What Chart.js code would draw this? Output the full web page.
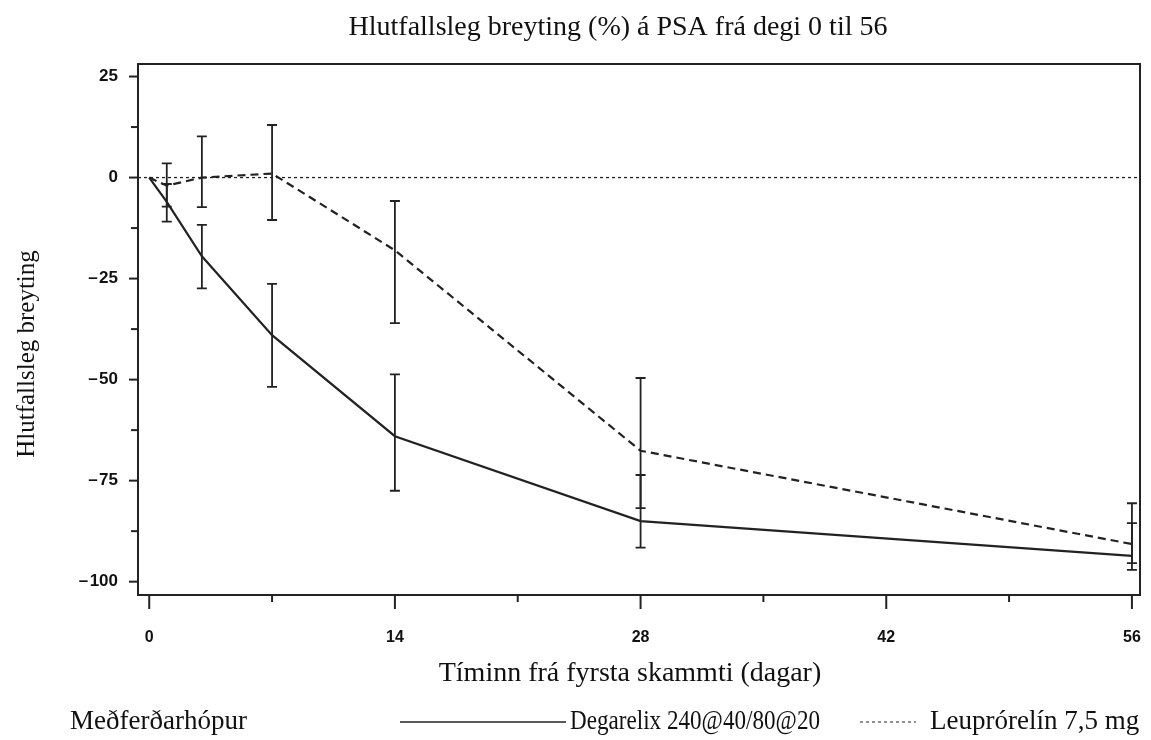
<!DOCTYPE html>
<html>
<head>
<meta charset="utf-8">
<script src="https://cdn.jsdelivr.net/npm/chart.js@4.4.1/dist/chart.umd.min.js"></script>
<style>
  html, body { margin: 0; padding: 0; background: #fff; }
  #wrap { width: 1151px; height: 740px; }
</style>
</head>
<body>
<div id="wrap"><canvas id="myChart" width="1151" height="740"></canvas></div>
<script>
// days after first dose
const days = [0, 1, 3, 7, 14, 28, 56];

// Degarelix 240@40/80@20
const degarelix = [0, -6, -19.5, -39, -64, -85, -93.6];
const degLow = [null, -10.9, -27.4, -51.8, -77.5, -91.6, -97.1];
const degHigh = [null, -1.6, -11.7, -26.3, -48.7, -73.6, -85.5];

// Leuprórelín 7,5 mg
const leuprorelin = [0, -2, 0, 1, -18, -67.6, -90.7];
const leuLow = [null, -7.2, -7.3, -10.5, -36, -81.8, -95.4];
const leuHigh = [null, 3.5, 10.2, 13, -5.8, -49.6, -80.6];

const xTicks = [0, 14, 28, 42, 56];
const xMinor = [7, 21, 35, 49];
const yTicks = [-100, -75, -50, -25, 0, 25];
const yMinor = [-87.5, -62.5, -37.5, -12.5, 12.5];

const serif = '"Liberation Serif", "Times New Roman", serif';
const sans = '"Liberation Sans", Arial, sans-serif';
const ink = '#222';

const toPoints = (ys) => days.map((d, i) => ({ x: d, y: ys[i] }));

// box, ticks, zero line, error bars, titles and legend
const decor = {
  id: 'decor',
  beforeDatasetsDraw(chart) {
    const { ctx, chartArea: a, scales: { y } } = chart;
    ctx.save();
    ctx.strokeStyle = ink;
    ctx.lineWidth = 1.3;
    ctx.setLineDash([3, 3]);
    ctx.beginPath();
    ctx.moveTo(a.left, y.getPixelForValue(0));
    ctx.lineTo(a.right, y.getPixelForValue(0));
    ctx.stroke();
    ctx.restore();
  },
  afterDatasetsDraw(chart) {
    const { ctx, chartArea: a, scales: { x, y } } = chart;
    ctx.save();
    ctx.strokeStyle = ink;
    ctx.lineWidth = 2;
    ctx.setLineDash([]);
    ctx.strokeRect(a.left, a.top, a.right - a.left, a.bottom - a.top);

    // y ticks
    yTicks.forEach(v => {
      const py = y.getPixelForValue(v);
      ctx.beginPath(); ctx.moveTo(a.left - 9, py); ctx.lineTo(a.left, py); ctx.stroke();
    });
    yMinor.forEach(v => {
      const py = y.getPixelForValue(v);
      ctx.beginPath(); ctx.moveTo(a.left - 7, py); ctx.lineTo(a.left, py); ctx.stroke();
    });
    // x ticks
    xTicks.forEach(v => {
      const px = x.getPixelForValue(v);
      ctx.beginPath(); ctx.moveTo(px, a.bottom); ctx.lineTo(px, a.bottom + 14); ctx.stroke();
    });
    xMinor.forEach(v => {
      const px = x.getPixelForValue(v);
      ctx.beginPath(); ctx.moveTo(px, a.bottom); ctx.lineTo(px, a.bottom + 7); ctx.stroke();
    });

    // error bars
    ctx.lineWidth = 1.8;
    const bars = (lo, hi) => {
      days.forEach((d, i) => {
        if (lo[i] == null) return;
        const px = x.getPixelForValue(d);
        const p1 = y.getPixelForValue(lo[i]);
        const p2 = y.getPixelForValue(hi[i]);
        ctx.beginPath();
        ctx.moveTo(px, p1); ctx.lineTo(px, p2);
        ctx.moveTo(px - 5, p1); ctx.lineTo(px + 5, p1);
        ctx.moveTo(px - 5, p2); ctx.lineTo(px + 5, p2);
        ctx.stroke();
      });
    };
    bars(degLow, degHigh);
    bars(leuLow, leuHigh);

    // titles
    ctx.fillStyle = '#111';
    ctx.textAlign = 'center';
    ctx.textBaseline = 'middle';
    ctx.font = '28px ' + serif;
    ctx.fillText('Hlutfallsleg breyting (%) á PSA frá degi 0 til 56', 618, 28, 540);
    ctx.fillText('Tíminn frá fyrsta skammti (dagar)', 630, 674, 386);
    ctx.font = '25px ' + serif;
    ctx.save();
    ctx.translate(27, 354);
    ctx.rotate(-Math.PI / 2);
    ctx.fillText('Hlutfallsleg breyting', 0, 0, 208);
    ctx.restore();

    // legend
    const ly = 722;
    ctx.font = '27px ' + serif;
    ctx.textAlign = 'left';
    ctx.fillText('Meðferðarhópur', 70, ly, 180);
    const ds = chart.data.datasets;
    ctx.lineWidth = 1.6;
    ctx.setLineDash([]);
    ctx.beginPath(); ctx.moveTo(400, ly); ctx.lineTo(566, ly); ctx.stroke();
    ctx.fillText(ds[0].label, 570, ly, 250);
    ctx.lineWidth = 1.2;
    ctx.setLineDash([3, 3]);
    ctx.beginPath(); ctx.moveTo(860, ly); ctx.lineTo(916, ly); ctx.stroke();
    ctx.fillText(ds[1].label, 930, ly, 210);
    ctx.restore();
  }
};

const config = {
  type: 'scatter',
  data: {
    datasets: [
      {
        label: 'Degarelix 240@40/80@20',
        data: toPoints(degarelix),
        showLine: true,
        borderColor: ink,
        borderWidth: 2.2,
        pointRadius: 0,
        tension: 0
      },
      {
        label: 'Leuprórelín 7,5 mg',
        data: toPoints(leuprorelin),
        showLine: true,
        borderColor: ink,
        borderWidth: 2.2,
        borderDash: [8, 5],
        pointRadius: 0,
        tension: 0
      }
    ]
  },
  options: {
    responsive: false,
    animation: false,
    layout: { padding: { top: 64, right: 11, left: 0, bottom: 0 } },
    plugins: {
      legend: { display: false },
      title: { display: false },
      tooltip: { enabled: false }
    },
    scales: {
      x: {
        type: 'linear',
        min: -0.64,
        max: 56.46,
        afterBuildTicks: (s) => { s.ticks = xTicks.map(v => ({ value: v })); },
        afterFit: (s) => { s.height = 145; s.paddingLeft = 0; s.paddingRight = 0; },
        grid: { display: false, drawTicks: false },
        border: { display: false },
        ticks: {
          autoSkip: false,
          maxRotation: 0,
          padding: 33,
          color: '#111',
          font: { family: sans, size: 16, weight: 'bold' },
          callback: (v) => String(v)
        }
      },
      y: {
        type: 'linear',
        min: -103.3,
        max: 28.1,
        afterBuildTicks: (s) => { s.ticks = yTicks.map(v => ({ value: v })); },
        afterFit: (s) => { s.width = 138; s.paddingTop = 0; s.paddingBottom = 0; },
        grid: { display: false, drawTicks: false },
        border: { display: false },
        ticks: {
          autoSkip: false,
          padding: 20,
          color: '#111',
          font: { family: sans, size: 17, weight: 'bold' },
          callback: (v) => v < 0 ? '\u2013\u200a' + Math.abs(v) : String(v)
        }
      }
    }
  },
  plugins: [decor]
};

const myChart = new Chart(document.getElementById('myChart'), config);
</script>
</body>
</html>
